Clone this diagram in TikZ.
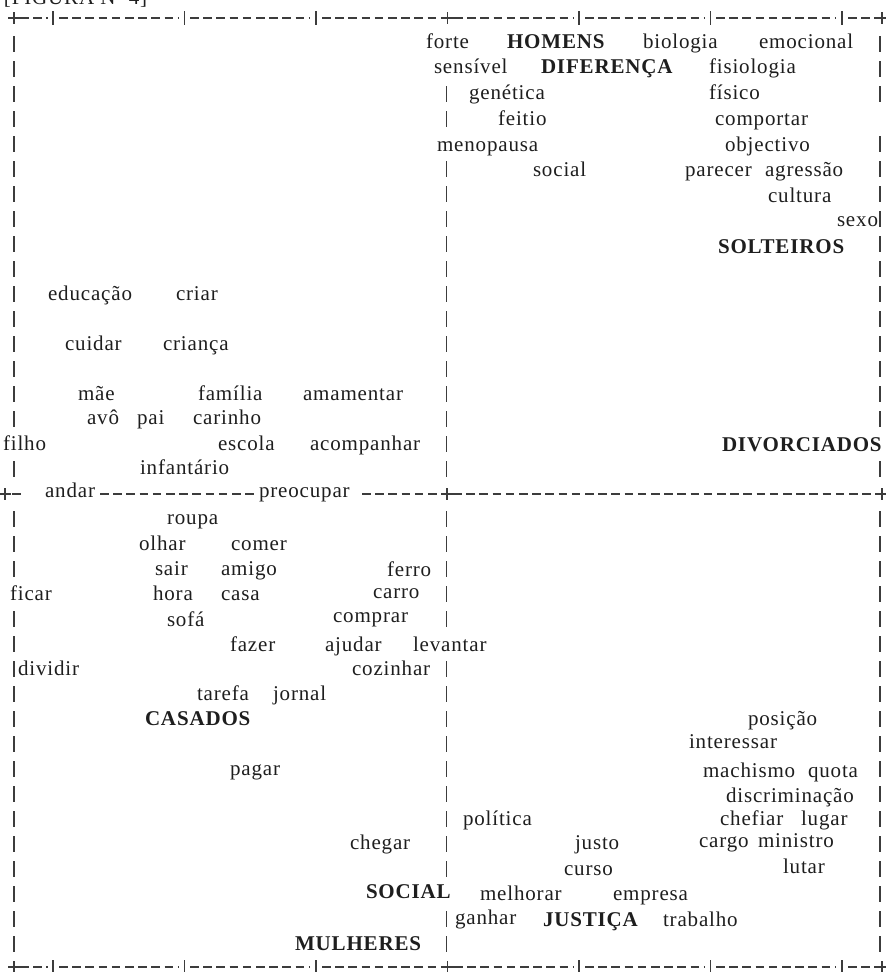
\documentclass[tikz,border=0pt]{standalone}
\usepackage{fontspec}
\setmainfont{Liberation Serif}[LetterSpace=4]
\definecolor{txt}{HTML}{1E1E1E}
\definecolor{ln}{HTML}{3C3C3C}
\newcommand\mycross[2]{\draw[bar] (#1,#2) ++(-6,0) -- ++(12,0) (#1,#2) ++(0,-6) -- ++(0,12);}
\newcommand\mytick[2]{\draw[bar] (#1,#2) ++(0,-7) -- ++(0,14);}
\begin{document}
\begin{tikzpicture}[x=1pt,y=-1pt,
  wd/.style={anchor=base west,inner sep=0pt,outer sep=0pt,text=txt,font=\fontsize{21}{24}\selectfont},
  hd/.style={wd,font=\fontsize{21}{24}\selectfont\bfseries},
  bar/.style={draw=ln,line width=1.3pt},
  dsh/.style={draw=ln,line width=1.4pt,dash pattern=on 8.6pt off 4.6pt},
]
\useasboundingbox (0,0) rectangle (886,972);
\clip (0,0) rectangle (886,972);
\fill[white] (0,0) rectangle (886,972);

% caption cut at the top
\node[wd] (cap) at (4,4) {[FIGURA Nº 4]};

% ---- top and bottom borders
\foreach \yy in {18,967}{
  \mycross{14}{\yy}
  \mycross{447.5}{\yy}
  \mycross{882}{\yy}
  \foreach \xx in {53,184.5,316,579,710.5,842}{\mytick{\xx}{\yy}}
  \draw[dsh] (20,\yy) -- (48,\yy);
  \draw[dsh] (59,\yy) -- (179,\yy);
  \draw[dsh] (190,\yy) -- (310,\yy);
  \draw[dsh] (322,\yy) -- (441,\yy);
  \draw[dsh] (454,\yy) -- (573,\yy);
  \draw[dsh] (585,\yy) -- (705,\yy);
  \draw[dsh] (716,\yy) -- (836,\yy);
  \draw[dsh] (848,\yy) -- (876,\yy);
}

% ---- middle horizontal row
\mycross{5}{494}
\draw[dsh] (12,494) -- (22,494);
\node[wd] (andar) at (45,497) {andar};
\draw[dsh] (100,494) -- (257,494);
\node[wd] (preocupar) at (259,497) {preocupar};
\draw[dsh] (362,494) -- (441,494);
\mycross{447}{494}
\draw[dsh] (453,494) -- (876,494);
\mycross{882}{494}

% ---- vertical bar columns
\foreach \r in {1,...,16,18,20,21,22,24,25,26,27,28,29,30,31,32,33,34,35,36,37}{
  \draw[bar] (14,{11+25*\r}) -- ++(0,16);}
\foreach \r in {3,4,6,7,8,9,10,11,12,13,14,15,16,17,18,20,21,22,23,24,26,27,28,29,30,31,32,33,34,36,37}{
  \draw[bar] (446.5,{11+25*\r}) -- ++(0,16);}
\foreach \r in {1,2,3,5,6,7,8,9,10,11,12,13,14,15,16,18,20,21,22,23,24,25,26,27,28,29,30,31,32,33,34,35,36,37}{
  \draw[bar] (880,{11+25*\r}) -- ++(0,16);}

% ---- top half words
\node[wd] (forte) at (426,48) {forte};
\node[hd] (homens) at (507,48) {HOMENS};
\node[wd] (biologia) at (643,48) {biologia};
\node[wd] (emocional) at (759,48) {emocional};
\node[wd] (sensivel) at (434,73) {sensível};
\node[hd] (diferenca) at (541,73) {DIFERENÇA};
\node[wd] (fisiologia) at (709,73) {fisiologia};
\node[wd] (genetica) at (469,99) {genética};
\node[wd] (fisico) at (709,99) {físico};
\node[wd] (feitio) at (498,125) {feitio};
\node[wd] (comportar) at (715,125) {comportar};
\node[wd] (menopausa) at (437,151) {menopausa};
\node[wd] (objectivo) at (725,151) {objectivo};
\node[wd] (social) at (533,176) {social};
\node[wd] (parecer) at (685,176) {parecer};
\node[wd] (agressao) at (765,176) {agressão};
\node[wd] (cultura) at (768,202) {cultura};
\node[wd] (sexo) at (837,226) {sexo};
\node[hd] (solteiros) at (718,253) {SOLTEIROS};
\node[wd] (educacao) at (48,300) {educação};
\node[wd] (criar) at (176,300) {criar};
\node[wd] (cuidar) at (65,350) {cuidar};
\node[wd] (crianca) at (163,350) {criança};
\node[wd] (mae) at (78,400) {mãe};
\node[wd] (familia) at (198,400) {família};
\node[wd] (amamentar) at (303,400) {amamentar};
\node[wd] (avo) at (87,424) {avô};
\node[wd] (pai) at (137,424) {pai};
\node[wd] (carinho) at (193,424) {carinho};
\node[wd] (filho) at (3,450) {filho};
\node[wd] (escola) at (218,450) {escola};
\node[wd] (acompanhar) at (310,450) {acompanhar};
\node[hd] (divorciados) at (722,451) {DIVORCIADOS};
\node[wd] (infantario) at (140,474) {infantário};

% ---- bottom half words
\node[wd] (roupa) at (167,524) {roupa};
\node[wd] (olhar) at (139,550) {olhar};
\node[wd] (comer) at (231,550) {comer};
\node[wd] (sair) at (155,575) {sair};
\node[wd] (amigo) at (221,575) {amigo};
\node[wd] (ferro) at (387,576) {ferro};
\node[wd] (ficar) at (10,600) {ficar};
\node[wd] (hora) at (153,600) {hora};
\node[wd] (casa) at (221,600) {casa};
\node[wd] (carro) at (373,598) {carro};
\node[wd] (sofa) at (167,626) {sofá};
\node[wd] (comprar) at (333,622) {comprar};
\node[wd] (fazer) at (230,651) {fazer};
\node[wd] (ajudar) at (325,651) {ajudar};
\node[wd] (levantar) at (413,651) {levantar};
\node[wd] (dividir) at (18,675) {dividir};
\node[wd] (cozinhar) at (352,675) {cozinhar};
\node[wd] (tarefa) at (197,700) {tarefa};
\node[wd] (jornal) at (273,700) {jornal};
\node[hd] (casados) at (145,725) {CASADOS};
\node[wd] (posicao) at (748,725) {posição};
\node[wd] (interessar) at (689,748) {interessar};
\node[wd] (pagar) at (230,775) {pagar};
\node[wd] (machismo) at (703,777) {machismo};
\node[wd] (quota) at (808,777) {quota};
\node[wd] (discriminacao) at (726,802) {discriminação};
\node[wd] (politica) at (463,825) {política};
\node[wd] (chefiar) at (720,825) {chefiar};
\node[wd] (lugar) at (801,825) {lugar};
\node[wd] (chegar) at (350,849) {chegar};
\node[wd] (justo) at (575,849) {justo};
\node[wd] (cargo) at (699,847) {cargo};
\node[wd] (ministro) at (758,847) {ministro};
\node[wd] (curso) at (564,875) {curso};
\node[wd] (lutar) at (783,873) {lutar};
\node[hd] (socialB) at (366,898) {SOCIAL};
\node[wd] (melhorar) at (480,900) {melhorar};
\node[wd] (empresa) at (613,900) {empresa};
\node[wd] (ganhar) at (455,924) {ganhar};
\node[hd] (justica) at (543,926) {JUSTIÇA};
\node[wd] (trabalho) at (663,926) {trabalho};
\node[hd] (mulheres) at (295,950) {MULHERES};
\end{tikzpicture}
\end{document}
